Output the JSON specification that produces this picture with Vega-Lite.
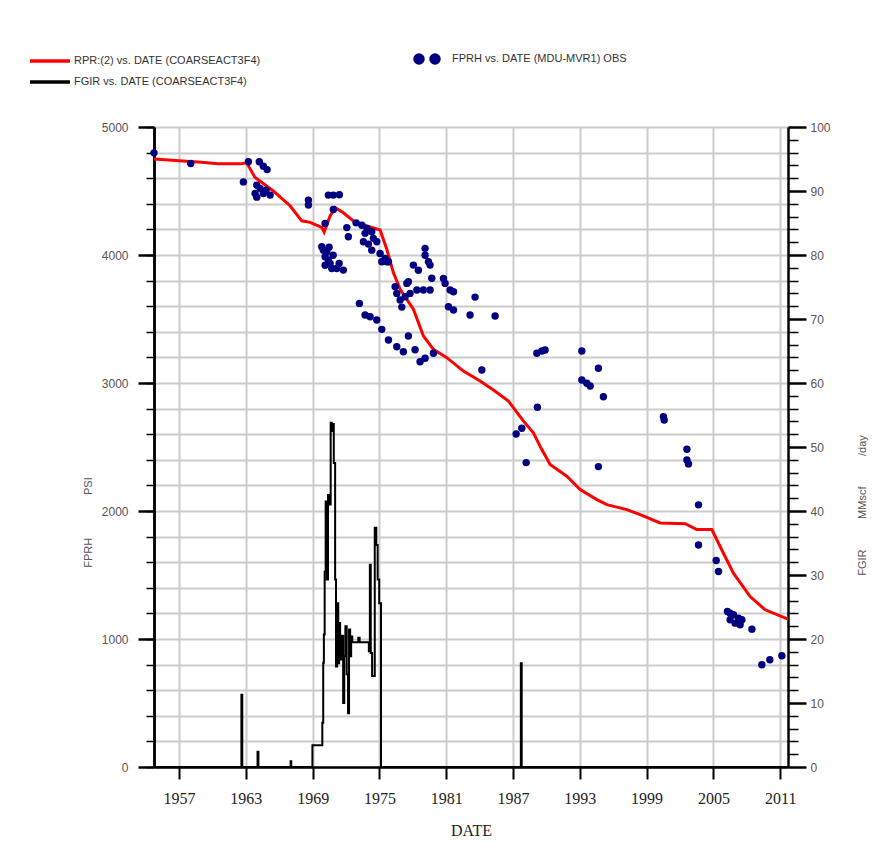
{
  "$schema": "https://vega.github.io/schema/vega-lite/v6.json",
  "width": 634,
  "height": 640,
  "autosize": {"type": "none"},
  "padding": {"left": 154, "top": 127, "right": 86, "bottom": 87},
  "background": "#ffffff",
  "config": {
    "view": {"stroke": null},
    "axis": {
      "labelFont": "Liberation Sans",
      "titleFont": "Liberation Sans",
      "domainColor": "#000000",
      "tickColor": "#000000",
      "labelOverlap": false
    }
  },
  "datasets": {
    "rpr": [
      {"year": 1954.75, "psi": 4750}, {"year": 1957.0, "psi": 4737}, {"year": 1959.0, "psi": 4725},
      {"year": 1960.5, "psi": 4712}, {"year": 1962.5, "psi": 4712}, {"year": 1963.08, "psi": 4720},
      {"year": 1963.83, "psi": 4605}, {"year": 1965.47, "psi": 4500}, {"year": 1966.97, "psi": 4385},
      {"year": 1968.02, "psi": 4267}, {"year": 1968.77, "psi": 4255}, {"year": 1969.82, "psi": 4215},
      {"year": 1970.03, "psi": 4180}, {"year": 1970.57, "psi": 4305}, {"year": 1971.02, "psi": 4370},
      {"year": 1971.76, "psi": 4330}, {"year": 1972.66, "psi": 4267}, {"year": 1973.86, "psi": 4228},
      {"year": 1975.06, "psi": 4195}, {"year": 1975.66, "psi": 4045}, {"year": 1976.25, "psi": 3863},
      {"year": 1976.86, "psi": 3732}, {"year": 1978.05, "psi": 3576}, {"year": 1978.95, "psi": 3367},
      {"year": 1979.85, "psi": 3263}, {"year": 1981.05, "psi": 3198}, {"year": 1982.54, "psi": 3093},
      {"year": 1984.04, "psi": 3015}, {"year": 1985.24, "psi": 2945}, {"year": 1986.59, "psi": 2859},
      {"year": 1987.94, "psi": 2702}, {"year": 1988.83, "psi": 2611}, {"year": 1989.43, "psi": 2506},
      {"year": 1990.33, "psi": 2363}, {"year": 1991.83, "psi": 2272}, {"year": 1993.03, "psi": 2167},
      {"year": 1994.53, "psi": 2089}, {"year": 1995.43, "psi": 2050}, {"year": 1997.22, "psi": 2011},
      {"year": 1998.42, "psi": 1972}, {"year": 2000.22, "psi": 1907}, {"year": 2002.46, "psi": 1901},
      {"year": 2003.51, "psi": 1855}, {"year": 2004.86, "psi": 1855}, {"year": 2005.9, "psi": 1670},
      {"year": 2006.8, "psi": 1514}, {"year": 2008.3, "psi": 1332}, {"year": 2009.65, "psi": 1228},
      {"year": 2011.7, "psi": 1155}
    ],
    "fprh": [
      {"year": 1954.75, "psi": 4798}, {"year": 1958.05, "psi": 4715}, {"year": 1962.78, "psi": 4571},
      {"year": 1963.23, "psi": 4728}, {"year": 1964.21, "psi": 4728}, {"year": 1964.57, "psi": 4694},
      {"year": 1964.91, "psi": 4667}, {"year": 1963.98, "psi": 4546}, {"year": 1963.83, "psi": 4481},
      {"year": 1964.28, "psi": 4520}, {"year": 1964.82, "psi": 4507}, {"year": 1965.18, "psi": 4468},
      {"year": 1964.57, "psi": 4481}, {"year": 1963.98, "psi": 4452},
      {"year": 1968.62, "psi": 4429}, {"year": 1968.62, "psi": 4390},
      {"year": 1970.41, "psi": 4468}, {"year": 1970.86, "psi": 4468}, {"year": 1971.4, "psi": 4471},
      {"year": 1970.86, "psi": 4356}, {"year": 1970.12, "psi": 4247}, {"year": 1972.07, "psi": 4214},
      {"year": 1972.21, "psi": 4142},
      {"year": 1972.9, "psi": 4251}, {"year": 1973.42, "psi": 4233}, {"year": 1973.89, "psi": 4208},
      {"year": 1974.31, "psi": 4181}, {"year": 1973.71, "psi": 4169}, {"year": 1973.56, "psi": 4103},
      {"year": 1974.01, "psi": 4085}, {"year": 1974.46, "psi": 4130}, {"year": 1974.76, "psi": 4103},
      {"year": 1974.31, "psi": 4038}, {"year": 1975.06, "psi": 4012}, {"year": 1975.51, "psi": 3973},
      {"year": 1975.66, "psi": 3947}, {"year": 1975.21, "psi": 3947}, {"year": 1975.81, "psi": 3947},
      {"year": 1969.82, "psi": 4064}, {"year": 1969.97, "psi": 4038}, {"year": 1970.27, "psi": 4025},
      {"year": 1970.12, "psi": 3986}, {"year": 1970.41, "psi": 3960}, {"year": 1970.57, "psi": 3934},
      {"year": 1970.12, "psi": 3920}, {"year": 1970.72, "psi": 3895}, {"year": 1971.17, "psi": 3895},
      {"year": 1971.76, "psi": 3882}, {"year": 1970.84, "psi": 3998}, {"year": 1970.48, "psi": 4060},
      {"year": 1971.38, "psi": 3934},
      {"year": 1973.2, "psi": 3622}, {"year": 1973.71, "psi": 3531}, {"year": 1974.16, "psi": 3518},
      {"year": 1974.76, "psi": 3492}, {"year": 1975.21, "psi": 3419}, {"year": 1975.81, "psi": 3336},
      {"year": 1976.56, "psi": 3283}, {"year": 1977.15, "psi": 3244}, {"year": 1977.6, "psi": 3367},
      {"year": 1978.2, "psi": 3260}, {"year": 1978.65, "psi": 3166}, {"year": 1979.1, "psi": 3193},
      {"year": 1979.85, "psi": 3232},
      {"year": 1976.41, "psi": 3752}, {"year": 1976.56, "psi": 3700}, {"year": 1976.86, "psi": 3648},
      {"year": 1977.01, "psi": 3593}, {"year": 1977.31, "psi": 3674}, {"year": 1977.46, "psi": 3778},
      {"year": 1977.75, "psi": 3700}, {"year": 1978.36, "psi": 3726}, {"year": 1978.95, "psi": 3726},
      {"year": 1979.55, "psi": 3726}, {"year": 1977.6, "psi": 3791}, {"year": 1979.1, "psi": 4052},
      {"year": 1979.1, "psi": 3998}, {"year": 1979.4, "psi": 3947}, {"year": 1979.55, "psi": 3921},
      {"year": 1978.05, "psi": 3921}, {"year": 1978.5, "psi": 3881}, {"year": 1979.7, "psi": 3818},
      {"year": 1980.75, "psi": 3817}, {"year": 1980.9, "psi": 3778}, {"year": 1981.35, "psi": 3726},
      {"year": 1981.65, "psi": 3713}, {"year": 1983.59, "psi": 3671}, {"year": 1981.2, "psi": 3596},
      {"year": 1981.65, "psi": 3570}, {"year": 1983.14, "psi": 3531}, {"year": 1985.39, "psi": 3523},
      {"year": 1984.2, "psi": 3101}, {"year": 1989.14, "psi": 3232}, {"year": 1989.59, "psi": 3250},
      {"year": 1989.88, "psi": 3258}, {"year": 1993.18, "psi": 3250}, {"year": 1994.67, "psi": 3115},
      {"year": 1993.18, "psi": 3023}, {"year": 1993.63, "psi": 2998}, {"year": 1993.93, "psi": 2977},
      {"year": 1995.12, "psi": 2893}, {"year": 1989.19, "psi": 2810}, {"year": 1987.79, "psi": 2646},
      {"year": 1987.28, "psi": 2602}, {"year": 1988.18, "psi": 2378}, {"year": 1994.67, "psi": 2347},
      {"year": 2000.51, "psi": 2737}, {"year": 2000.58, "psi": 2711}, {"year": 2002.62, "psi": 2482},
      {"year": 2002.62, "psi": 2399}, {"year": 2002.76, "psi": 2368}, {"year": 2003.66, "psi": 2048},
      {"year": 2003.66, "psi": 1735}, {"year": 2005.25, "psi": 1613}, {"year": 2005.46, "psi": 1527},
      {"year": 2006.26, "psi": 1215}, {"year": 2006.5, "psi": 1202}, {"year": 2006.8, "psi": 1189},
      {"year": 2007.25, "psi": 1163}, {"year": 2006.5, "psi": 1150}, {"year": 2006.95, "psi": 1124},
      {"year": 2007.4, "psi": 1111}, {"year": 2007.56, "psi": 1150}, {"year": 2008.46, "psi": 1077},
      {"year": 2009.35, "psi": 799}, {"year": 2010.07, "psi": 838}, {"year": 2011.15, "psi": 869}
    ],
    "fgir": [
      {"year": 1954.75, "rate": 0}, {"year": 1962.6, "rate": 11.3}, {"year": 1962.68, "rate": 0},
      {"year": 1964.05, "rate": 2.4}, {"year": 1964.13, "rate": 0}, {"year": 1967.02, "rate": 0.9},
      {"year": 1967.08, "rate": 0}, {"year": 1968.98, "rate": 3.4}, {"year": 1969.87, "rate": 6.9},
      {"year": 1969.95, "rate": 16.3}, {"year": 1970.01, "rate": 20.7}, {"year": 1970.08, "rate": 30.5},
      {"year": 1970.17, "rate": 41.5}, {"year": 1970.27, "rate": 29.3}, {"year": 1970.38, "rate": 42.5},
      {"year": 1970.5, "rate": 41.0}, {"year": 1970.62, "rate": 53.8}, {"year": 1970.72, "rate": 52.5},
      {"year": 1970.8, "rate": 53.6}, {"year": 1970.9, "rate": 47.5}, {"year": 1971.02, "rate": 29.3},
      {"year": 1971.1, "rate": 15.7}, {"year": 1971.2, "rate": 25.6}, {"year": 1971.3, "rate": 16.2},
      {"year": 1971.38, "rate": 22.5}, {"year": 1971.47, "rate": 16.8}, {"year": 1971.6, "rate": 20.5},
      {"year": 1971.74, "rate": 10.0}, {"year": 1971.84, "rate": 17.3}, {"year": 1971.94, "rate": 22.0},
      {"year": 1972.06, "rate": 14.5}, {"year": 1972.18, "rate": 8.4}, {"year": 1972.27, "rate": 21.5},
      {"year": 1972.37, "rate": 17.3}, {"year": 1972.46, "rate": 20.4}, {"year": 1972.56, "rate": 19.5},
      {"year": 1973.1, "rate": 20.2}, {"year": 1973.22, "rate": 19.5}, {"year": 1974.05, "rate": 18.1},
      {"year": 1974.14, "rate": 31.6}, {"year": 1974.22, "rate": 17.8}, {"year": 1974.34, "rate": 14.2},
      {"year": 1974.58, "rate": 37.4}, {"year": 1974.72, "rate": 34.7}, {"year": 1974.84, "rate": 29.3},
      {"year": 1974.98, "rate": 25.6}, {"year": 1975.14, "rate": 0}, {"year": 1987.7, "rate": 16.2},
      {"year": 1987.78, "rate": 0}, {"year": 2011.7, "rate": 0}
    ]
  },
  "layer": [
    {
      "data": {"name": "fgir"},
      "mark": {"type": "line", "interpolate": "step-after", "strokeWidth": 2},
      "encoding": {
        "x": {
          "field": "year", "type": "quantitative",
          "scale": {"domain": [1954.75, 2011.7], "nice": false, "zero": false},
          "axis": {
            "title": "DATE",
            "values": [1957, 1963, 1969, 1975, 1981, 1987, 1993, 1999, 2005, 2011],
            "format": "d",
            "labelFont": "Liberation Serif", "labelFontSize": 16, "labelColor": "#222222", "labelPadding": 11,
            "titleFont": "Liberation Serif", "titleFontSize": 16, "titleFontWeight": "normal", "titleColor": "#222222", "titlePadding": 16,
            "tickSize": 12, "tickWidth": 2, "domainWidth": 2.5,
            "grid": true, "gridColor": "#cccccc", "gridWidth": 2
          }
        },
        "y": {
          "field": "rate", "type": "quantitative",
          "scale": {"domain": [0, 100], "nice": false, "zero": true},
          "axis": {
            "orient": "right",
            "title": "FGIR\u00a0\u00a0\u00a0\u00a0\u00a0\u00a0\u00a0\u00a0\u00a0\u00a0MMscf\u00a0\u00a0\u00a0\u00a0\u00a0\u00a0\u00a0\u00a0\u00a0\u00a0/day",
            "titleAngle": -90, "titleX": 74, "titleY": 378, "titleAlign": "center", "titleBaseline": "middle",
            "titleFontSize": 11, "titleFontWeight": "normal", "titleColor": "#555555",
            "values": [0,2,4,6,8,10,12,14,16,18,20,22,24,26,28,30,32,34,36,38,40,42,44,46,48,50,52,54,56,58,60,62,64,66,68,70,72,74,76,78,80,82,84,86,88,90,92,94,96,98,100],
            "labelExpr": "datum.value % 10 === 0 ? datum.label : ''",
            "labelOverlap": false,
            "labelFontSize": 12, "labelColor": "#555555", "labelPadding": 4,
            "tickSize": {"condition": {"test": "datum.value % 10 === 0", "value": 18}, "value": 10},
            "tickWidth": {"condition": {"test": "datum.value % 10 === 0", "value": 2.5}, "value": 1.5},
            "domainWidth": 2.5, "grid": false
          }
        },
        "color": {
          "datum": "FGIR vs. DATE (COARSEACT3F4)", "type": "nominal",
          "scale": {
            "domain": ["RPR:(2) vs. DATE (COARSEACT3F4)", "FGIR vs. DATE (COARSEACT3F4)", "FPRH vs. DATE (MDU-MVR1) OBS"],
            "range": ["#ff0000", "#000000", "#000080"]
          },
          "legend": {
            "title": null,
            "orient": "none", "legendX": -126, "legendY": -80,
            "columns": 2, "columnPadding": 145, "rowPadding": 0, "padding": 0,
            "symbolSize": 400, "labelOffset": 22,
            "labelFont": "Liberation Sans", "labelFontSize": 11, "labelColor": "#333333", "labelLimit": 400,
            "encode": {
              "symbols": {
                "update": {
                  "shape": {"signal": "datum.value === 'FPRH vs. DATE (MDU-MVR1) OBS' ? 'M-0.3,0a0.4,0.4 0 1,0 0.8,0a0.4,0.4 0 1,0 -0.8,0ZM1.3,0a0.4,0.4 0 1,0 0.8,0a0.4,0.4 0 1,0 -0.8,0Z' : 'M-1,0H3'"},
                  "fill": {"signal": "datum.value === 'FPRH vs. DATE (MDU-MVR1) OBS' ? '#000080' : 'transparent'"},
                  "stroke": {"signal": "datum.value === 'RPR:(2) vs. DATE (COARSEACT3F4)' ? '#ff0000' : (datum.value === 'FGIR vs. DATE (COARSEACT3F4)' ? '#000000' : 'transparent')"},
                  "strokeWidth": {"value": 3.5},
                  "opacity": {"value": 1}
                }
              }
            }
          }
        }
      }
    },
    {
      "layer": [
        {
          "data": {"name": "rpr"},
          "mark": {"type": "line", "strokeWidth": 3},
          "encoding": {
            "x": {"field": "year", "type": "quantitative", "title": "DATE"},
            "y": {
              "field": "psi", "type": "quantitative",
              "scale": {"domain": [0, 5000], "nice": false, "zero": true},
              "axis": {
                "orient": "left",
                "title": null,
                "values": [0,200,400,600,800,1000,1200,1400,1600,1800,2000,2200,2400,2600,2800,3000,3200,3400,3600,3800,4000,4200,4400,4600,4800,5000],
                "labels": false,
                "tickSize": 8, "tickWidth": 1.5,
                "domainWidth": 2.5,
                "grid": true, "gridColor": "#cccccc", "gridWidth": 2
              }
            },
            "color": {"datum": "RPR:(2) vs. DATE (COARSEACT3F4)", "type": "nominal"}
          }
        },
        {
          "data": {"name": "fprh"},
          "mark": {"type": "point", "filled": true, "size": 55, "opacity": 1},
          "encoding": {
            "x": {"field": "year", "type": "quantitative", "title": "DATE"},
            "y": {
              "field": "psi", "type": "quantitative",
              "axis": {
                "orient": "left",
                "title": "FPRH\u00a0\u00a0\u00a0\u00a0\u00a0\u00a0\u00a0\u00a0\u00a0\u00a0\u00a0\u00a0\u00a0\u00a0PSI",
                "titleAngle": -90, "titleX": -66, "titleY": 395, "titleAlign": "center", "titleBaseline": "middle",
                "titleFontSize": 11, "titleFontWeight": "normal", "titleColor": "#555555",
                "values": [0, 1000, 2000, 3000, 4000, 5000],
                "format": "d",
                "labelOverlap": false,
                "labelFontSize": 12, "labelColor": "#555555", "labelPadding": 10,
                "tickSize": 16, "tickWidth": 2.5,
                "domainWidth": 2.5,
                "grid": false
              }
            },
            "color": {"datum": "FPRH vs. DATE (MDU-MVR1) OBS", "type": "nominal"}
          }
        }
      ],
      "resolve": {"scale": {"y": "shared"}, "axis": {"y": "independent"}}
    }
  ],
  "resolve": {"scale": {"y": "independent"}, "axis": {"y": "independent"}}
}
